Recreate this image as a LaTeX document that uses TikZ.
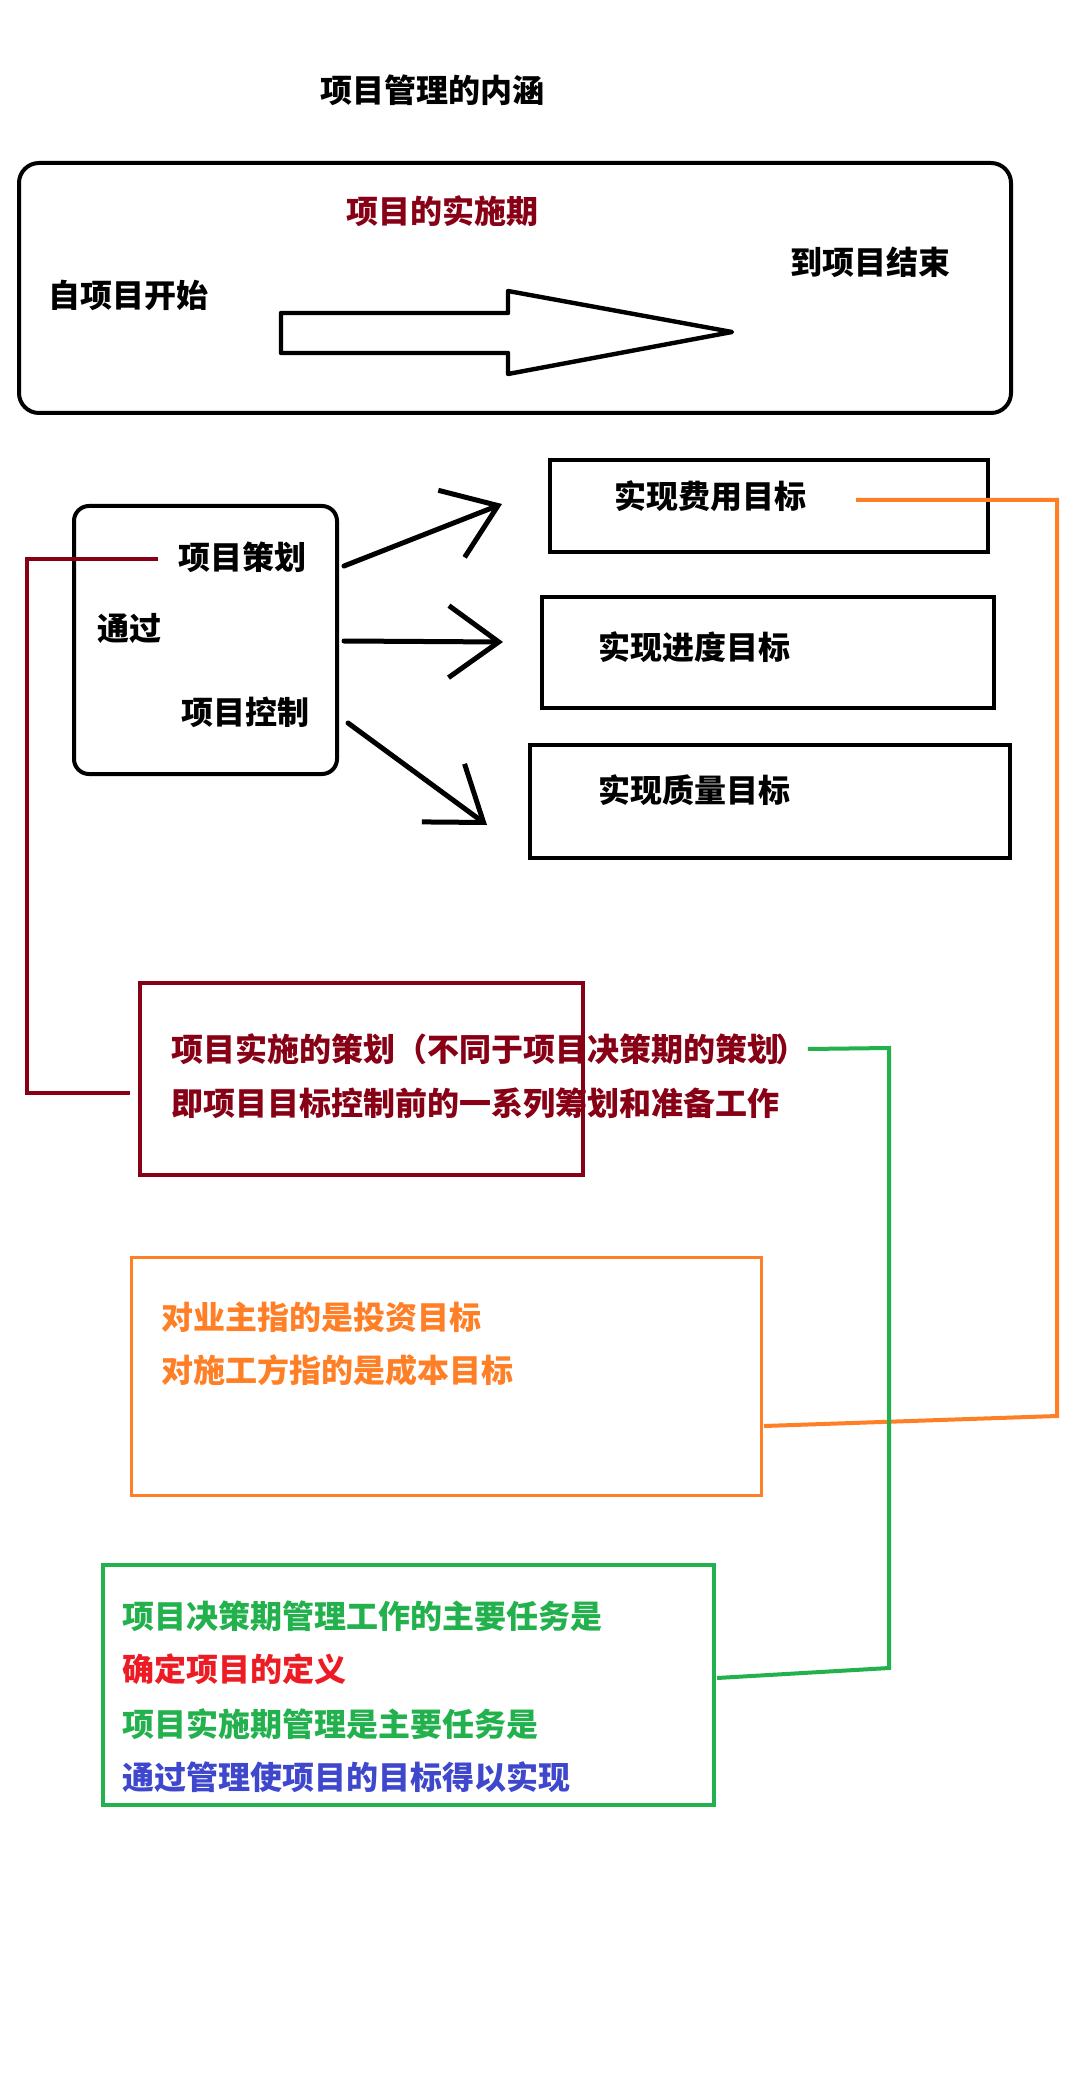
\documentclass[tikz,border=0pt]{standalone}
\usepackage{fontspec}
\newfontfamily\cjk{Noto Sans CJK SC}
\usetikzlibrary{arrows.meta}
\definecolor{darkred}{HTML}{880015}
\definecolor{paintorange}{HTML}{FF7F27}
\definecolor{paintgreen}{HTML}{22B14C}
\definecolor{paintred}{HTML}{ED1C24}
\definecolor{paintblue}{HTML}{3F48CC}
\tikzset{
  lbl/.style={anchor=west, inner sep=0pt, font=\cjk\bfseries\fontsize{16pt}{19pt}\selectfont},
  frame/.style={draw, rectangle, inner sep=0pt, line width=2pt},
  flow/.style={line width=2.5pt, line cap=round, -{Straight Barb[length=25pt,width=36pt]}},
  link/.style={line width=2pt},
}
\begin{document}
\begin{tikzpicture}[x=0.5pt,y=-0.5pt]
\useasboundingbox (0,0) rectangle (1080,2080);
\fill[white] (0,0) rectangle (1080,2080);

% heading
\node[lbl] (title) at (320,90) {项目管理的内涵};

% implementation period
\node[frame, rounded corners=10pt, minimum width=496pt, minimum height=125pt] (span) at (515,288) {};
\node[lbl, text=darkred] (period) at (346,211) {项目的实施期};
\node[lbl] (from) at (48,295) {自项目开始};
\node[lbl] (to) at (790,262) {到项目结束};
\draw[line width=2.2pt, line join=round]
  (281,313) -- (508,313) -- (508,291) -- (732,332) -- (508,374) -- (508,353) -- (281,353) -- cycle;

% planning and control
\node[frame, rounded corners=7.5pt, minimum width=131.5pt, minimum height=134pt] (via) at (205.5,640) {};
\node[lbl] (planlbl) at (178,557) {项目策划};
\node[lbl] (vialbl) at (97,629) {通过};
\node[lbl] (ctrllbl) at (181,712) {项目控制};

% three goals
\node[frame, line width=2.2pt, minimum width=219pt, minimum height=46pt] (costbox) at (769,506) {};
\node[lbl] (costlbl) at (614,496) {实现费用目标};
\node[frame, line width=2.2pt, minimum width=226pt, minimum height=55.5pt] (schedbox) at (768,652.5) {};
\node[lbl] (schedlbl) at (598,647) {实现进度目标};
\node[frame, line width=2.2pt, minimum width=240pt, minimum height=56.5pt] (qualbox) at (770,801.5) {};
\node[lbl] (quallbl) at (598,790) {实现质量目标};

\coordinate (s1) at (344,566); \coordinate (t1) at (502,504);
\coordinate (s2) at (344,641); \coordinate (t2) at (503,642);
\coordinate (s3) at (348,723); \coordinate (t3) at (487,825);
\draw[flow] (s1) -- (t1);
\draw[flow] (s2) -- (t2);
\draw[flow] (s3) -- (t3);

% planning of implementation
\node[frame, draw=darkred, minimum width=221.5pt, minimum height=96pt] (planbox) at (361.5,1079) {};
\node[lbl, text=darkred] (pl1) at (171,1049) {项目实施的策划（不同于项目决策期的策划\kern-2pt）};
\node[lbl, text=darkred] (pl2) at (171,1103) {即项目目标控制前的一系列筹划和准备工作};

% cost goal by party
\node[frame, draw=paintorange, line width=1.6pt, minimum width=315pt, minimum height=119pt] (ownerbox) at (446.5,1376.5) {};
\node[lbl, text=paintorange] (ow1) at (161,1317) {对业主指的是投资目标};
\node[lbl, text=paintorange] (ow2) at (161,1370) {对施工方指的是成本目标};

% main tasks
\node[frame, draw=paintgreen, minimum width=305.5pt, minimum height=120pt] (taskbox) at (408.5,1685) {};
\node[lbl, text=paintgreen] (tk1) at (122,1616) {项目决策期管理工作的主要任务是};
\node[lbl, text=paintred] (tk2) at (122,1669) {确定项目的定义};
\node[lbl, text=paintgreen] (tk3) at (122,1724) {项目实施期管理是主要任务是};
\node[lbl, text=paintblue] (tk4) at (122,1777) {通过管理使项目的目标得以实现};

% connectors
\coordinate (redend) at (130,1093);
\draw[link, darkred, line width=2.2pt] ([xshift=-10pt,yshift=-1pt]planlbl.west) -- (27,559) |- (redend);

\coordinate (ostart) at (856,500);
\coordinate (oend) at (764,1426);
\draw[link, paintorange] (ostart) -- (1057,500) -- (1057,1416) -- (oend);

\coordinate (gend) at (717,1678);
\draw[link, paintgreen] (pl1.east) -- (889,1048) -- (889,1668) -- (gend);
\end{tikzpicture}
\end{document}
